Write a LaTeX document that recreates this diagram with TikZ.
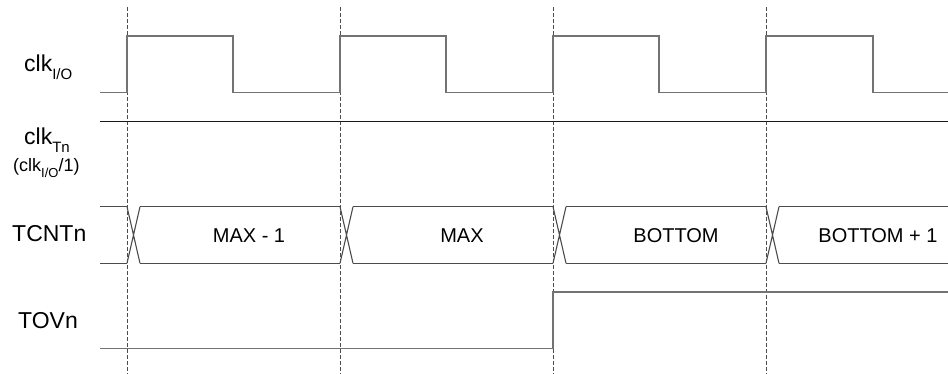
\documentclass[tikz,border=0pt]{standalone}
\usepackage{fontspec}
\setmainfont{Liberation Sans}
\newcommand{\sbs}[1]{\raisebox{-0.33em}{\fontsize{15}{15}\selectfont #1}}
\newcommand{\sbsm}[1]{\raisebox{-0.33em}{\fontsize{13}{13}\selectfont #1}}
\begin{document}
\begin{tikzpicture}[x=1pt,y=-1pt,
  sig/.style={draw=black!55, line width=1.3pt, line join=miter},
  bus/.style={draw=black!70, line width=1.1pt},
  flat/.style={draw=black!90, line width=0.9pt},
  guide/.style={draw=black!70, line width=0.8pt, dash pattern=on 4pt off 2pt},
  lbl/.style={font=\fontsize{23}{23}\selectfont, inner sep=0pt, anchor=base west},
  val/.style={font=\fontsize{20}{20}\selectfont, inner sep=0pt}]
\useasboundingbox (0,0) rectangle (948,374);
% guides
\foreach \x in {127,340,553,766} \draw[guide] (\x,7) -- (\x,374);
% clk I/O
\draw[sig] (100,92.7) -- (127,92.7) -- (127,36) -- (233,36) -- (233,92.7) -- (340,92.7) -- (340,36) -- (446,36) -- (446,92.7) -- (553,92.7) -- (553,36) -- (659,36) -- (659,92.7) -- (766,92.7) -- (766,36) -- (873,36) -- (873,92.7) -- (948,92.7);
% clk Tn
\draw[flat] (100,121) -- (948,121);
% TCNTn
\draw[bus] (100,206.7) -- (127,206.7) (100,263.3) -- (127,263.3);
\foreach \a/\b in {127/340,340/553,553/766} {
  \draw[bus] (\a,206.7) -- (\a+13,263.3) (\a,263.3) -- (\a+13,206.7);
  \draw[bus] (\a+13,206.7) -- (\b,206.7) (\a+13,263.3) -- (\b,263.3);
}
\draw[bus] (766,206.7) -- (779,263.3) (766,263.3) -- (779,206.7);
\draw[bus] (779,206.7) -- (948,206.7) (779,263.3) -- (948,263.3);
% TOVn
\draw[sig] (100,348.7) -- (553,348.7) -- (553,292) -- (948,292);
% values
\node[val] (v1) at (249,236) {MAX - 1};
\node[val] (v2) at (462,236) {MAX};
\node[val] (v3) at (676,236) {BOTTOM};
\node[val] (v4) at (878,236) {BOTTOM + 1};
% labels
\node[lbl] (lclkio) at (24,72) {clk\sbs{I/O}};
\node[lbl] (lclktn) at (24,145) {clk\sbs{Tn}};
\node[lbl, font=\fontsize{18}{18}\selectfont] (ldiv) at (13,172) {(clk\sbsm{I/O}/1)};
\node[lbl] (ltcnt) at (12,242) {TCNTn};
\node[lbl] (ltov) at (18,328) {TOVn};
\end{tikzpicture}
\end{document}
